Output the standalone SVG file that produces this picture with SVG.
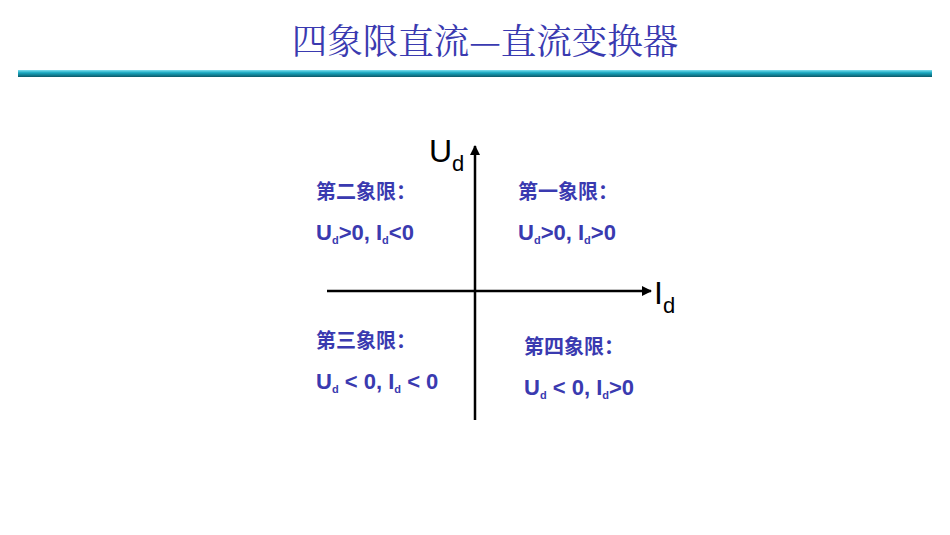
<svg xmlns="http://www.w3.org/2000/svg" width="950" height="535" viewBox="0 0 950 535">
<style>
.t{fill:#3a3ab0;font-family:"Liberation Sans","Noto Sans CJK SC",sans-serif;font-size:22px;font-weight:bold}
.c{font-family:"Noto Sans CJK SC",sans-serif;font-size:20px;font-weight:bold}
.s{font-size:11px}
.ax{stroke:#000;stroke-width:2.5;fill:none}
.al{font-family:"Liberation Sans",sans-serif;fill:#000}
</style>
<defs>
<linearGradient id="g" x1="0" y1="0" x2="0" y2="1">
<stop offset="0" stop-color="#7fe0f0"/><stop offset="0.4" stop-color="#1aa8c0"/><stop offset="1" stop-color="#0b5a6a"/>
</linearGradient>
<marker id="a" viewBox="0 0 10 10" refX="9" refY="5" markerWidth="4" markerHeight="4" orient="auto"><path d="M0,0L10,5L0,10z" fill="#000"/></marker>
</defs>
<text x="485" y="54" text-anchor="middle" font-family="Noto Serif CJK SC,Noto Sans CJK SC,serif" font-size="35.5" fill="#3a3ab0">四象限直流—直流变换器</text>
<rect x="18" y="70" width="914" height="7" fill="url(#g)"/>
<g id="connectors">
<line class="ax" x1="475" y1="420" x2="475" y2="146" marker-end="url(#a)"/>
<line class="ax" x1="327" y1="291" x2="651" y2="291" marker-end="url(#a)"/>
</g>
<g id="axis-labels">
<text class="al" x="429" y="162" font-size="32">U<tspan font-size="22" dy="9">d</tspan></text>
<text class="al" x="654" y="304" font-size="32">I<tspan font-size="22" dy="9">d</tspan></text>
</g>
<g id="q2"><text class="t c" x="316" y="199">第二象限：</text>
<text class="t" x="316" y="240">U<tspan class="s" dy="4">d</tspan><tspan dy="-4">&gt;0, I</tspan><tspan class="s" dy="4">d</tspan><tspan dy="-4">&lt;0</tspan></text></g>
<g id="q1"><text class="t c" x="518" y="199">第一象限：</text>
<text class="t" x="518" y="240">U<tspan class="s" dy="4">d</tspan><tspan dy="-4">&gt;0, I</tspan><tspan class="s" dy="4">d</tspan><tspan dy="-4">&gt;0</tspan></text></g>
<g id="q3"><text class="t c" x="316" y="348">第三象限：</text>
<text class="t" x="316" y="389">U<tspan class="s" dy="4">d</tspan><tspan dy="-4"> &lt; 0, I</tspan><tspan class="s" dy="4">d</tspan><tspan dy="-4"> &lt; 0</tspan></text></g>
<g id="q4"><text class="t c" x="524" y="354">第四象限：</text>
<text class="t" x="524" y="395">U<tspan class="s" dy="4">d</tspan><tspan dy="-4"> &lt; 0, I</tspan><tspan class="s" dy="4">d</tspan><tspan dy="-4">&gt;0</tspan></text></g>
</svg>
